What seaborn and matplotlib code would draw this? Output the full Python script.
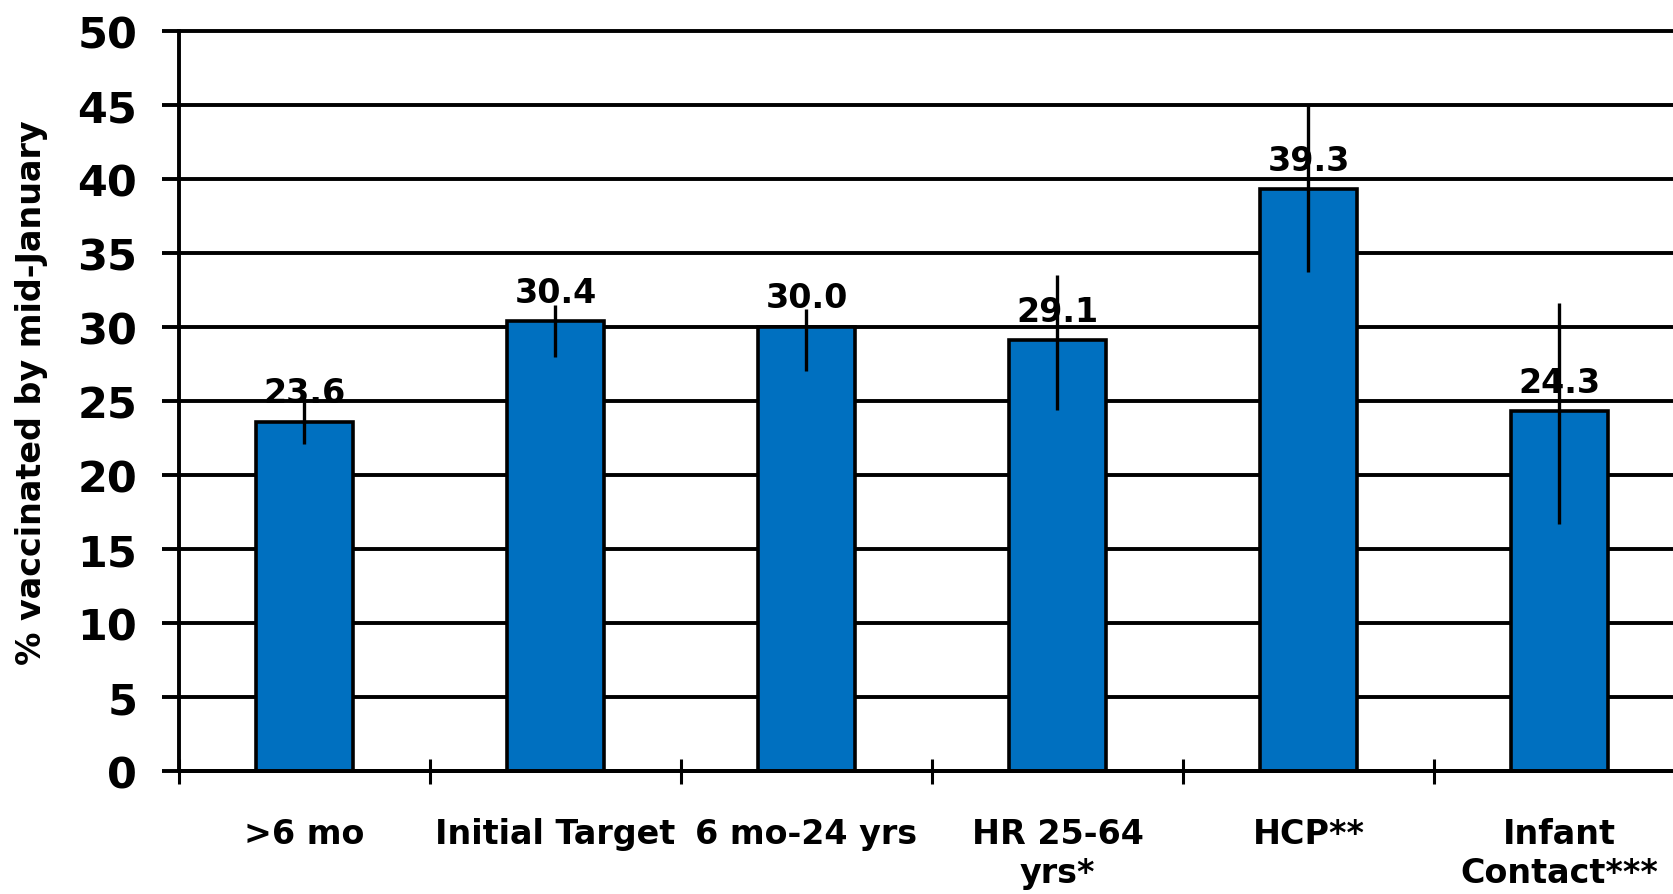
import numpy as np
import matplotlib
matplotlib.use("Agg")
import matplotlib.pyplot as plt
import seaborn as sns

# data
groups = [">6 mo", "Initial Target", "6 mo-24 yrs", "HR 25-64\nyrs*", "HCP**", "Infant\nContact***"]
pct = [23.6, 30.4, 30.0, 29.1, 39.3, 24.3]
ci_low = [22.1, 28.0, 27.0, 24.4, 33.7, 16.7]
ci_high = [24.9, 31.5, 31.2, 33.5, 45.0, 31.6]
y_ticks = [0, 5, 10, 15, 20, 25, 30, 35, 40, 45, 50]

sns.set_style("white")
plt.rcParams['font.family'] = ['DejaVu Sans']
plt.rcParams['text.color'] = 'black'
plt.rcParams['xtick.color'] = 'black'
plt.rcParams['ytick.color'] = 'black'

W, H = 1674, 895
fig = plt.figure(figsize=(W / 100, H / 100), dpi=100)
# axes runs past the right edge, like the cropped original
ax = fig.add_axes([179 / W, 1 - 772 / H, 1506 / W, 740 / H])

sns.barplot(x=groups, y=pct, color='#0070C0', saturation=1, width=0.39,
            edgecolor='black', linewidth=2.6, errorbar=None, ax=ax)

# value labels
ax.bar_label(ax.containers[0], fmt='%.1f', padding=9, fontsize=24,
             fontweight='bold', color='black')

# error bars (no caps)
pos = np.arange(len(groups))
yerr = [np.array(pct) - np.array(ci_low), np.array(ci_high) - np.array(pct)]
ax.errorbar(pos, pct, yerr=yerr, fmt='none', ecolor='black', elinewidth=2.4, capsize=0, zorder=5)

# axes styling
ax.set_xlim(-0.5, 5.5)
ax.set_ylim(0, 50)
ax.set_yticks(y_ticks)
ax.set_axisbelow(True)
ax.yaxis.grid(True, color='black', linewidth=2.8)
for gl in ax.get_ygridlines():
    gl.set_clip_on(False)
for side in ['top', 'right']:
    ax.spines[side].set_visible(False)
for side in ['left', 'bottom']:
    ax.spines[side].set_linewidth(2.8)
    ax.spines[side].set_color('black')

ax.tick_params(axis='y', direction='out', length=12, width=2.8, pad=18,
               labelsize=31, left=True, labelcolor='black')
for t in ax.get_yticklabels():
    t.set_fontweight('bold')

# category ticks between bars, labels under bars
ax.set_xticks(pos)
ax.set_xticks(np.arange(-0.5, 6, 1), minor=True)
ax.tick_params(axis='x', which='major', length=0, pad=33, labelsize=24, labelcolor='black')
ax.tick_params(axis='x', which='minor', direction='inout', length=18, width=2.2, bottom=True)
for t in ax.get_xticklabels():
    t.set_fontweight('bold')
    t.set_linespacing(1.25)

ax.set_xlabel('')
ax.set_ylabel('')
fig.text(32 / W, 1 - 393 / H, '% vaccinated by mid-January', rotation=90,
         ha='center', va='center', fontsize=24, fontweight='bold', color='black')

plt.savefig("out.png", dpi=100)
